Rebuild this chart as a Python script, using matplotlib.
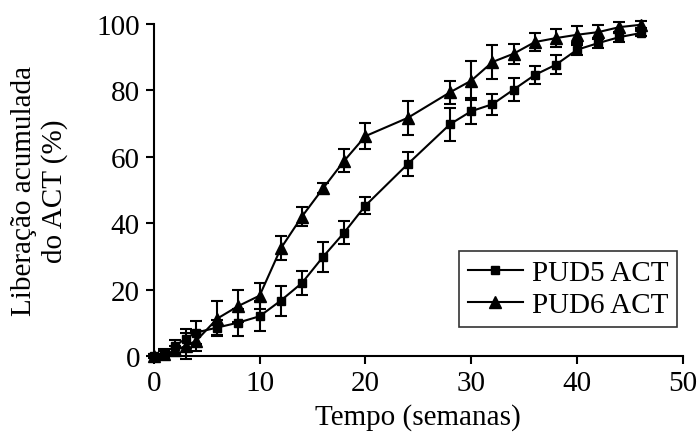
import numpy as np
import matplotlib.pyplot as plt
from matplotlib.lines import Line2D

plt.rcParams['font.family'] = ['Liberation Serif', 'DejaVu Serif']

semanas = [0, 1, 2, 3, 4, 6, 8, 10, 12, 14, 16, 18, 20, 24, 28, 30, 32, 34, 36, 38, 40, 42, 44, 46]

pud5 = [0, 1, 3, 5.3, 7.1, 8.6, 10.1, 12, 16.7, 22, 29.9, 37.2, 45.3, 57.8,
        69.8, 73.7, 75.8, 80.2, 84.6, 87.7, 92.2, 94.2, 96, 97.2]
pud5_err = [0.5, 1, 2, 3, 3.5, 2.3, 4, 4.5, 4.5, 3.6, 4.5, 3.5, 2.5, 3.5,
            5, 4, 3.1, 3.5, 2.8, 2.9, 1.5, 1.5, 1.5, 1]

pud6 = [0, 0.5, 1.7, 3.1, 4.6, 11.3, 15.1, 18.2, 32.4, 42, 50.5, 58.8, 66.2, 71.7,
        79.4, 82.9, 88.5, 91, 94.5, 95.7, 96.7, 97.5, 99, 99.7]
pud6_err = [0.5, 1, 1.5, 4, 3, 5.2, 4.9, 3.9, 3.6, 2.8, 1.5, 3.4, 3.9, 5.1,
            3.5, 5.9, 5, 3, 2.8, 2.7, 2.5, 2, 1.5, 1]

fig = plt.figure(figsize=(6.99, 4.35), dpi=100)
ax = fig.add_axes([0.220, 0.179, 0.757, 0.764])

kw = dict(color='black', lw=1.5, elinewidth=1.5, capsize=4, capthick=1.5, clip_on=False)
ax.errorbar(semanas, pud5, yerr=pud5_err, marker='s', ms=6, **kw)
ax.errorbar(semanas, pud6, yerr=pud6_err, marker='^', ms=8, **kw)

ax.set_xlim(0, 50)
ax.set_ylim(0, 100)
ax.set_xticks(range(0, 51, 10))
ax.set_yticks(range(0, 101, 20))
ax.spines['top'].set_visible(False)
ax.spines['right'].set_visible(False)
for s in ('left', 'bottom'):
    ax.spines[s].set_linewidth(1.5)
ax.tick_params(direction='out', length=6, width=1.5, labelsize=21, pad=4)

ax.set_xlabel('Tempo (semanas)', fontsize=21, labelpad=5)
ax.set_ylabel('Liberação acumulada\ndo ACT (%)', fontsize=21, labelpad=20)

handles = [Line2D([], [], color='black', lw=1.5, marker='s', ms=6),
           Line2D([], [], color='black', lw=1.5, marker='^', ms=8)]
leg = ax.legend(handles, ['PUD5 ACT', 'PUD6 ACT'], loc='lower right',
                bbox_to_anchor=(0.989, 0.087), borderaxespad=0, fontsize=21,
                frameon=True, fancybox=False, edgecolor='black', handlelength=1.9,
                labelspacing=0.2, borderpad=0.3, handletextpad=0.3)
leg.get_frame().set_linewidth(1.2)

fig.savefig('out.png', dpi=100)
